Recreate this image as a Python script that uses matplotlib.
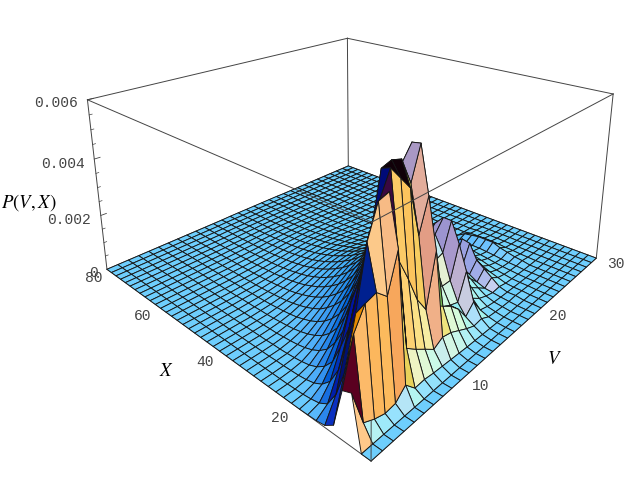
import numpy as np
import matplotlib
matplotlib.use("Agg")
import matplotlib.pyplot as plt
from mpl_toolkits.mplot3d import Axes3D  # noqa

plt.rcParams['mathtext.fontset'] = 'stix'

# ---------- data ----------
V_VALUES = list(range(0, 31))
X_VALUES = list(range(0, 81, 2))
Z_TOP = 0.006
P_UNIT = 1e-5
# one row per X value, columns V = 0, 1, 2, ...; trailing zeros omitted
P_ROWS = [
 [],
 [],
 [150,42,26,16,20,50,16,18,14,12,10,8,6,5,4,3,2,1],
 [140,270,330,340,310,420,120,95,73,50,67,60,45,30,18,22,8,5,3,2,4,2,1],
 [25,150,290,460,550,560,360,290,210,160,320,130,110,80,35,65,18,10,6,4,3,2,1],
 [6,70,200,320,450,530,600,560,520,370,470,120,95,80,70,155,45,25,14,7,10,4,2,1],
 [2,25,100,200,320,420,590,600,590,510,610,200,150,130,130,235,80,50,30,10,30,12,6,3,2,5,1],
 [1,10,50,130,240,290,400,500,550,560,605,280,220,200,210,300,120,80,50,20,50,20,10,5,3,8,2,1],
 [0,5,25,70,140,210,280,360,420,460,480,320,260,240,260,300,150,105,70,35,70,30,15,8,5,14,4,1],
 [0,2,12,40,90,150,210,270,330,370,400,330,280,250,240,270,150,110,85,50,120,45,22,12,8,20,5,2],
 [0,1,6,22,55,100,150,205,260,300,330,310,270,230,190,220,130,105,90,60,125,55,28,15,10,30,7,2,1],
 [0,0,3,12,35,68,110,155,200,240,270,280,255,215,175,170,120,100,88,60,105,55,30,18,12,30,8,3,1],
 [0,0,2,7,22,46,80,118,155,190,220,235,225,195,160,130,105,85,70,50,85,45,28,17,12,30,8,3,1],
 [0,0,1,4,14,32,58,90,120,150,178,195,195,175,150,125,102,80,62,45,65,38,25,15,10,25,7,3,1],
 [0,0,1,2,9,22,42,68,95,120,145,162,168,155,140,120,98,78,60,46,50,30,20,13,8,20,6,3,1],
 [0,0,0,1,6,15,30,50,74,96,118,135,144,140,128,110,92,75,60,46,34,24,16,10,6,3,1],
 [0,0,0,1,4,10,22,38,57,77,96,112,122,122,114,100,86,72,58,45,34,25,17,11,7,4,2,1],
 [0,0,0,0,2,7,15,28,44,61,78,92,102,106,100,90,78,66,54,43,33,25,18,12,7,4,2,1],
 [0,0,0,0,2,5,11,21,34,48,63,76,86,90,88,80,70,60,50,40,31,23,17,11,7,4,2,1],
 [0,0,0,0,1,3,8,15,26,38,50,62,71,76,76,70,62,54,45,36,28,21,15,10,6,4,2,1],
 [0,0,0,0,1,2,6,11,19,29,40,50,59,64,64,60,54,47,40,32,25,19,14,9,6,3,2,1],
 [0,0,0,0,0,2,4,8,14,22,31,40,48,53,54,52,47,41,35,28,22,17,12,8,5,3,2,1],
 [0,0,0,0,0,1,3,6,11,17,24,32,39,44,45,44,40,35,30,25,19,15,11,7,5,3,1,1],
 [0,0,0,0,0,1,2,4,8,13,19,25,31,36,38,37,34,30,26,21,17,13,9,6,4,2,1],
 [0,0,0,0,0,1,2,3,6,10,14,20,25,29,31,31,29,26,22,18,14,11,8,5,3,2,1],
 [0,0,0,0,0,0,1,2,4,7,11,15,20,24,26,26,24,22,19,15,12,9,7,4,3,2,1],
 [0,0,0,0,0,0,1,2,3,6,8,12,16,19,21,22,20,18,16,13,10,8,6,4,2,1,1],
 [0,0,0,0,0,0,1,1,2,4,6,9,12,15,17,18,17,15,13,11,9,7,5,3,2,1],
 [0,0,0,0,0,0,0,1,2,3,5,7,10,12,14,14,14,12,11,9,7,5,4,3,2,1],
 [0,0,0,0,0,0,0,1,1,2,4,5,8,10,11,12,11,10,9,7,6,4,3,2,1],
 [0,0,0,0,0,0,0,0,1,2,3,4,6,8,9,9,9,8,7,6,5,3,2,2,1],
 [0,0,0,0,0,0,0,0,1,1,2,3,5,6,7,7,7,7,6,5,4,3,2,1,1],
 [0,0,0,0,0,0,0,0,0,1,2,2,4,5,6,6,6,5,4,4,3,2,1,1],
 [0,0,0,0,0,0,0,0,0,1,1,2,3,4,4,5,4,4,4,3,2,2,1,1],
 [0,0,0,0,0,0,0,0,0,0,1,1,2,3,3,4,4,3,3,3,2,2,1,1],
 [0,0,0,0,0,0,0,0,0,0,1,1,2,2,3,3,3,3,2,2,2,1,1],
 [0,0,0,0,0,0,0,0,0,0,0,1,1,2,2,2,2,2,2,2,1,1,1],
 [0,0,0,0,0,0,0,0,0,0,0,1,1,1,2,2,2,2,2,1,1,1],
 [0,0,0,0,0,0,0,0,0,0,0,0,1,1,1,1,2,1,1,1,1,1],
 [0,0,0,0,0,0,0,0,0,0,0,0,1,1,1,1,1,1,1,1,1],
 [0,0,0,0,0,0,0,0,0,0,0,0,0,1,1,1,1,1,1,1],
]
Z_TICKS = [0.002, 0.004, 0.006]
Z_MINOR = [0.0005, 0.001, 0.0015, 0.0025, 0.003, 0.0035, 0.0045, 0.005, 0.0055]
Z_LABELS = ['0.006', '0.004', '0.002', '0']
X_LABELS = ['80', '60', '40', '20']
V_LABELS = ['10', '20', '30']
# faces whose shading the simple light model misses: (V index, X index) -> colour
FACE_COLOURS = {
    (0, 1): '#FFC98A', (0, 2): '#5A0020', (1, 3): '#E58A00', (2, 3): '#00208F',
    (0, 3): '#0A1E9E', (0, 4): '#0A30C0', (1, 4): '#001070',
    (5, 4): '#3A0840', (5, 5): '#000A78', (6, 5): '#100008', (7, 5): '#100008',
    (8, 5): '#D8D860', (9, 6): '#A998C4',
    (14, 8): '#9C94D0', (14, 7): '#9C94D0', (14, 6): '#A898CC', (14, 5): '#BDB0D0', (14, 4): '#C8CCE0',
    (19, 9): '#9AA0E0', (19, 8): '#98A4E4', (19, 7): '#A0ACE8', (19, 6): '#B0BCEC', (19, 5): '#C8D0F0',
}

# ---------- camera calibration: box corners (V, X, P) seen at these pixels ----------
W, H = 627, 501
BOX_CORNERS = [
    ((0, 0, 0), (370.5, 461)), ((0, 1, 0), (107, 268)),
    ((1, 1, 0), (348, 167)),   ((1, 0, 0), (597, 258)),
    ((0, 1, 1), (87, 100)),    ((1, 1, 1), (348, 38)),
    ((1, 0, 1), (612, 93)),    ((0, 0, 1), (373, 224)),
]
A, b = [], []
for (u, v, t), (px, py) in BOX_CORNERS:
    A.append([u, v, t, 1, 0, 0, 0, 0, -px*u, -px*v, -px*t]); b.append(px)
    A.append([0, 0, 0, 0, u, v, t, 1, -py*u, -py*v, -py*t]); b.append(py)
s = np.linalg.lstsq(np.array(A, float), np.array(b, float), rcond=None)[0]
Px, Py, Pw = s[:4], s[4:8], np.r_[s[8:11], 1.0]
Nx = Px / (W/2) - Pw
Ny = Pw - Py / (H/2)
M = np.array([Nx, Ny, [0, 0, 0, -1.0], Pw])
M = M @ np.diag([1/30, 1/80, 1/Z_TOP, 1.0])

# ---------- lighting (three coloured lights fixed to the view) ----------
BOX_H = 0.16
ELEV = np.arcsin(0.61)
r_vec = np.array([0.65, -0.76, 0.0])
f_vec = np.array([-0.76, -0.65, 0.0])
z_vec = np.array([0.0, 0.0, 1.0])
t_vec = f_vec*np.cos(ELEV) + z_vec*np.sin(ELEV)
u_vec = z_vec*np.cos(ELEV) - f_vec*np.sin(ELEV)

vv, xx = np.meshgrid(V_VALUES, X_VALUES)
zz = np.array([row + [0]*(len(V_VALUES)-len(row)) for row in P_ROWS], float) * P_UNIT

bx, by, bz = vv/30.0, xx/80.0, zz/Z_TOP*BOX_H
d1 = np.stack([bx[1:, 1:]-bx[:-1, :-1], by[1:, 1:]-by[:-1, :-1], bz[1:, 1:]-bz[:-1, :-1]], -1)
d2 = np.stack([bx[:-1, 1:]-bx[1:, :-1], by[:-1, 1:]-by[1:, :-1], bz[:-1, 1:]-bz[1:, :-1]], -1)
n = np.cross(d2, d1)
n = n * np.sign(n[..., 2:3])
n /= np.linalg.norm(n, axis=-1, keepdims=True)
nx, ny, nz = n @ r_vec, n @ u_vec, n @ t_vec
R = np.clip((nx+nz)/np.sqrt(2), 0, 1)
G = np.clip((nx+ny+nz)/np.sqrt(3), 0, 1)
B = np.clip((ny+nz)/np.sqrt(2), 0, 1)
face = np.dstack([R, G, B, np.ones_like(R)])
for (i, j), c in FACE_COLOURS.items():
    face[j, i] = matplotlib.colors.to_rgba(c)

# ---------- drawing ----------
fig = plt.figure(figsize=(W/100, H/100), dpi=100, facecolor='white')
ax = fig.add_axes([0, 0, 1, 1], projection='3d')
ax.set_axis_off()
ax.computed_zorder = False
ax.get_proj = lambda: M
ax.apply_aspect = lambda position=None: None
ax.set_position([0, 0, 1, 1])
ax.viewLim.intervalx = (-1, 1)
ax.viewLim.intervaly = (-1, 1)

def seg(a, b, z, lw=0.7):
    ax.plot([a[0], b[0]], [a[1], b[1]], [a[2], b[2]], zorder=z, color='#444444', lw=lw)

T = Z_TOP
for a, b_ in [((0,80,0),(30,80,0)), ((30,80,0),(30,0,0)), ((0,0,0),(30,0,0)), ((0,0,0),(0,80,0)),
              ((30,80,0),(30,80,T)), ((0,80,T),(30,80,T)), ((30,80,T),(30,0,T))]:
    seg(a, b_, 1)

ax.plot_surface(vv, xx, zz, rstride=1, cstride=1, facecolors=face, edgecolor='#151515',
                linewidth=0.65, antialiased=True, shade=False, zorder=2)

for a, b_ in [((0,80,0),(0,80,T)), ((30,0,0),(30,0,T)), ((0,80,T),(0,0,T)), ((30,0,T),(0,0,T)),
              ((0,0,0),(0,0,0.0011))]:
    seg(a, b_, 3)
for z in Z_TICKS:
    seg((0,80,z), (0.5,80,z), 3, 0.6)
for z in Z_MINOR:
    seg((0,80,z), (0.25,80,z), 3, 0.5)

mono = dict(family='Liberation Mono', fontsize=10.5, color='#444444', ha='center', va='center')
def label(px, py, s, **kw):
    fig.text(px/W, 1-py/H, s, **kw)
for s_, (px, py) in zip(Z_LABELS, [(56,103), (62.5,164), (69,220.5), (94,273)]):
    label(px, py, s_, **mono)
for s_, (px, py) in zip(X_LABELS, [(94,278), (143,316), (205,361.5), (279.5,417.5)]):
    label(px, py, s_, **mono)
for s_, (px, py) in zip(V_LABELS, [(480.5,385.5), (557.5,316), (615.5,263.5)]):
    label(px, py, s_, **mono)
serif = dict(fontsize=13.5, color='black', ha='center', va='center')
label(29, 202.5, r'$P(V,X)$', **serif)
label(166, 370, r'$X$', **serif)
label(554, 358.5, r'$V$', **serif)

fig.savefig('out.png', dpi=100)
